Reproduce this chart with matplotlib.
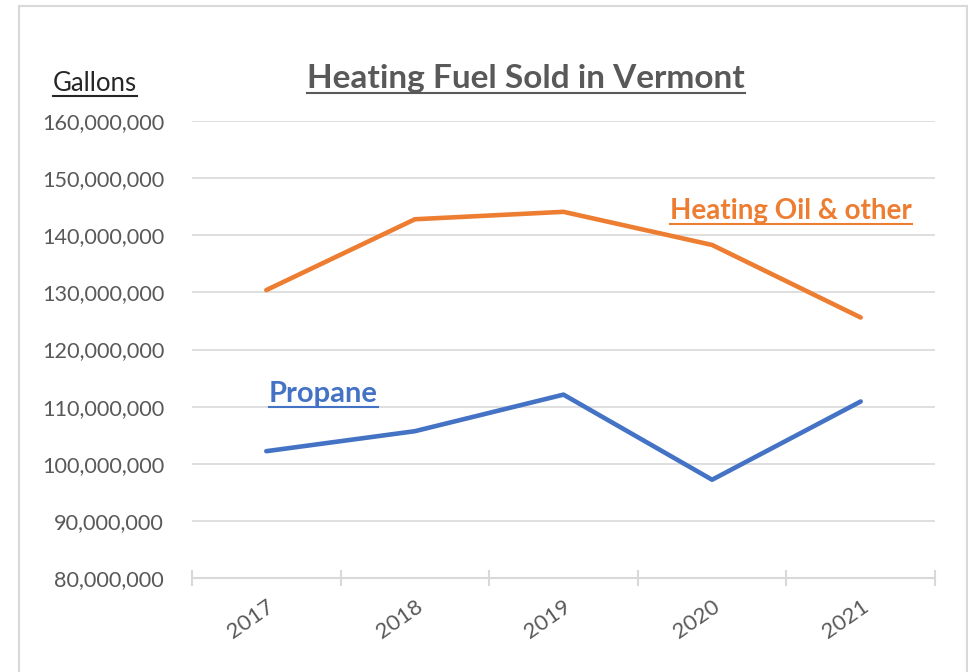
import matplotlib.pyplot as plt
from matplotlib.lines import Line2D
from matplotlib.ticker import FuncFormatter

# Data
years = ['2017', '2018', '2019', '2020', '2021']
heating_oil = [130.4e6, 142.8e6, 144.1e6, 138.3e6, 125.6e6]
propane = [102.2e6, 105.7e6, 112.1e6, 97.2e6, 110.9e6]
y_ticks = [80e6, 90e6, 100e6, 110e6, 120e6, 130e6, 140e6, 150e6, 160e6]

W, H = 968, 672
orange = '#ED7D31'
blue = '#4472C4'
grey_txt = '#595959'
grid_c = '#D9D9D9'

plt.rcParams['font.family'] = ['Lato', 'DejaVu Sans']

fig = plt.figure(figsize=(W / 100, H / 100), dpi=100)
ax = fig.add_axes([192 / W, 1 - 578 / H, (935 - 192) / W, (578 - 121) / H])

x = list(range(len(years)))
ax.plot(x, heating_oil, color=orange, linewidth=3.3, solid_capstyle='round')
ax.plot(x, propane, color=blue, linewidth=3.3, solid_capstyle='round')

ax.set_xlim(-0.5, len(years) - 0.5)
ax.set_ylim(y_ticks[0], y_ticks[-1])
ax.set_yticks(y_ticks)
ax.yaxis.set_major_formatter(FuncFormatter(lambda v, p: f'{v:,.0f}'))
ax.grid(axis='y', color=grid_c, linewidth=1.2)
ax.set_axisbelow(True)

ax.set_xticks(x)
ax.set_xticklabels(years, rotation=35, ha='right', va='top', rotation_mode='anchor')
ax.set_xticks([i - 0.5 for i in range(len(years) + 1)], minor=True)
ax.tick_params(axis='x', which='major', length=0, pad=13, labelsize=16, labelcolor=grey_txt)
ax.tick_params(axis='x', which='minor', length=12, direction='inout', color=grid_c, width=1.5)
ax.tick_params(axis='y', length=0, pad=20, labelsize=15.6, labelcolor=grey_txt)

for s in ['top', 'right', 'left']:
    ax.spines[s].set_visible(False)
ax.spines['bottom'].set_color(grid_c)
ax.spines['bottom'].set_linewidth(1.5)


def px(xp, yp):
    return xp / W, 1 - yp / H


def underlined(xp, yp, text, **kw):
    t = fig.text(*px(xp, yp), text, va='baseline', **kw)
    fig.canvas.draw()
    bb = t.get_window_extent()
    yl = (H - yp - 5) / H
    fig.add_artist(Line2D([bb.x0 / W, bb.x1 / W], [yl, yl], color=kw.get('color'),
                          linewidth=1.5, transform=fig.transFigure))
    return t


underlined(526, 88, 'Heating Fuel Sold in Vermont', ha='center', fontsize=24,
           fontweight='bold', color=grey_txt)
underlined(53, 91, 'Gallons', ha='left', fontsize=18.5, color='#262626')
underlined(670, 219, 'Heating Oil & other', ha='left', fontsize=20,
           fontweight='bold', color=orange)
underlined(269, 402, 'Propane', ha='left', fontsize=21, fontweight='bold', color=blue)

# chart border
for xs, ys in [([19, 19], [6, H]), ([19, 967], [6, 6]), ([967, 967], [6, H])]:
    fig.add_artist(Line2D([v / W for v in xs], [1 - v / H for v in ys], color=grid_c,
                          linewidth=1.5, transform=fig.transFigure))

fig.savefig('out.png', dpi=100, facecolor='white')
